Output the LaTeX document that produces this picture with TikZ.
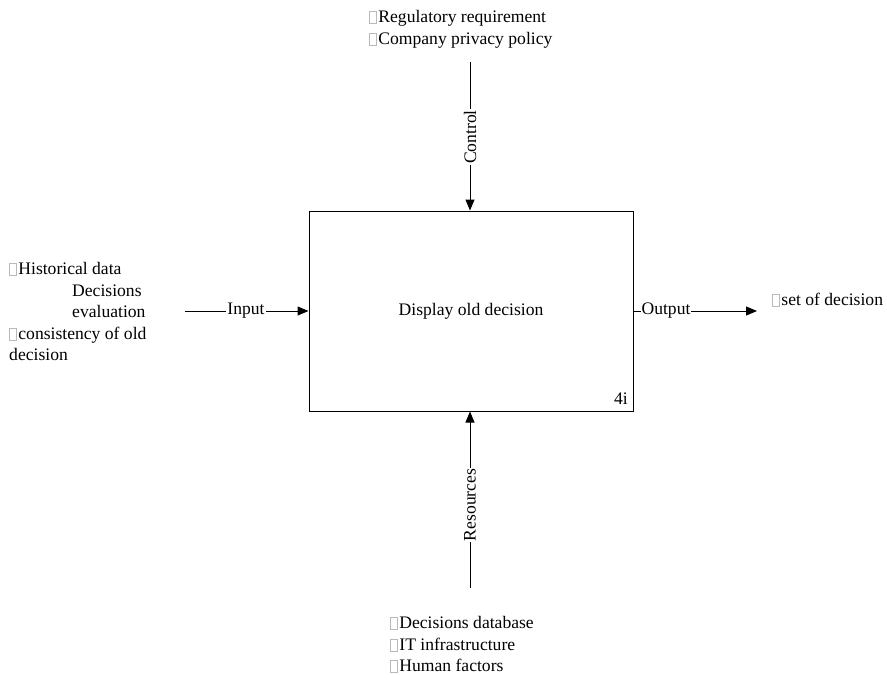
\documentclass[tikz,border=0pt]{standalone}
\usepackage{fontspec}
\setmainfont{Liberation Serif}
\usepackage{xcolor}
\usetikzlibrary{arrows.meta}
% placeholder box for a bullet glyph the font could not show
\newcommand\nobullet{{\setlength\fboxsep{0pt}\setlength\fboxrule{0.6pt}%
  \raisebox{-0.5pt}{\fcolorbox{gray!55}{white}{\rule{0pt}{11pt}\rule{6.5pt}{0pt}}}\hspace{1.5pt}}}
\begin{document}
\begin{tikzpicture}[x=1pt,y=-1pt,
  txt/.style={inner sep=0pt,anchor=base west,font=\fontsize{17.6}{21.5}\selectfont},
  lbl/.style={inner sep=1pt,fill=white,font=\fontsize{17.6}{21.5}\selectfont},
  conn/.style={line width=1pt,-{Triangle[length=11pt,width=9pt]}},
  plain/.style={line width=1pt}]
\useasboundingbox (0,0) rectangle (887,675);

% activity box
\node[draw,line width=1pt,minimum width=324pt,minimum height=200pt,inner sep=0pt] (act) at (471,311) {};
\node[txt,anchor=center] (title) at (471,311) {Display old decision};
\node[txt,anchor=base east] (num) at (628,404) {4i};

% control
\coordinate (ctop) at (470,62);
\draw[conn] (ctop) -- (act.north -| ctop);
\node[lbl,rotate=90] (clbl) at (470,137) {Control};
\node[txt] (c1) at (369,22) {\nobullet Regulatory requirement};
\node[txt] (c2) at (369,44) {\nobullet Company privacy policy};

% resources
\coordinate (rbot) at (470,588);
\draw[conn] (rbot) -- (act.south -| rbot);
\node[lbl,rotate=90] (rlbl) at (470,505) {Resources};
\node[txt] (r1) at (390,628) {\nobullet Decisions database};
\node[txt] (r2) at (390,650) {\nobullet IT infrastructure};
\node[txt] (r3) at (390,671) {\nobullet Human factors};

% input
\coordinate (iin) at (185,311);
\draw[conn] (iin) -- (act.west |- iin);
\node[lbl] (ilbl) at (246,311) {Input};
\node[txt] (i1) at (9,274) {\nobullet Historical data};
\node[txt] (i2) at (72,296) {Decisions};
\node[txt] (i3) at (72,317) {evaluation};
\node[txt] (i4) at (9,339) {\nobullet consistency of old};
\node[txt] (i5) at (9,360) {decision};

% output
\coordinate (oout) at (757,311);
\draw[conn] (act.east |- oout) -- (oout);
\node[lbl] (olbl) at (666,311) {Output};
\node[txt] (o1) at (772,305) {\nobullet set of decision};
\end{tikzpicture}
\end{document}
